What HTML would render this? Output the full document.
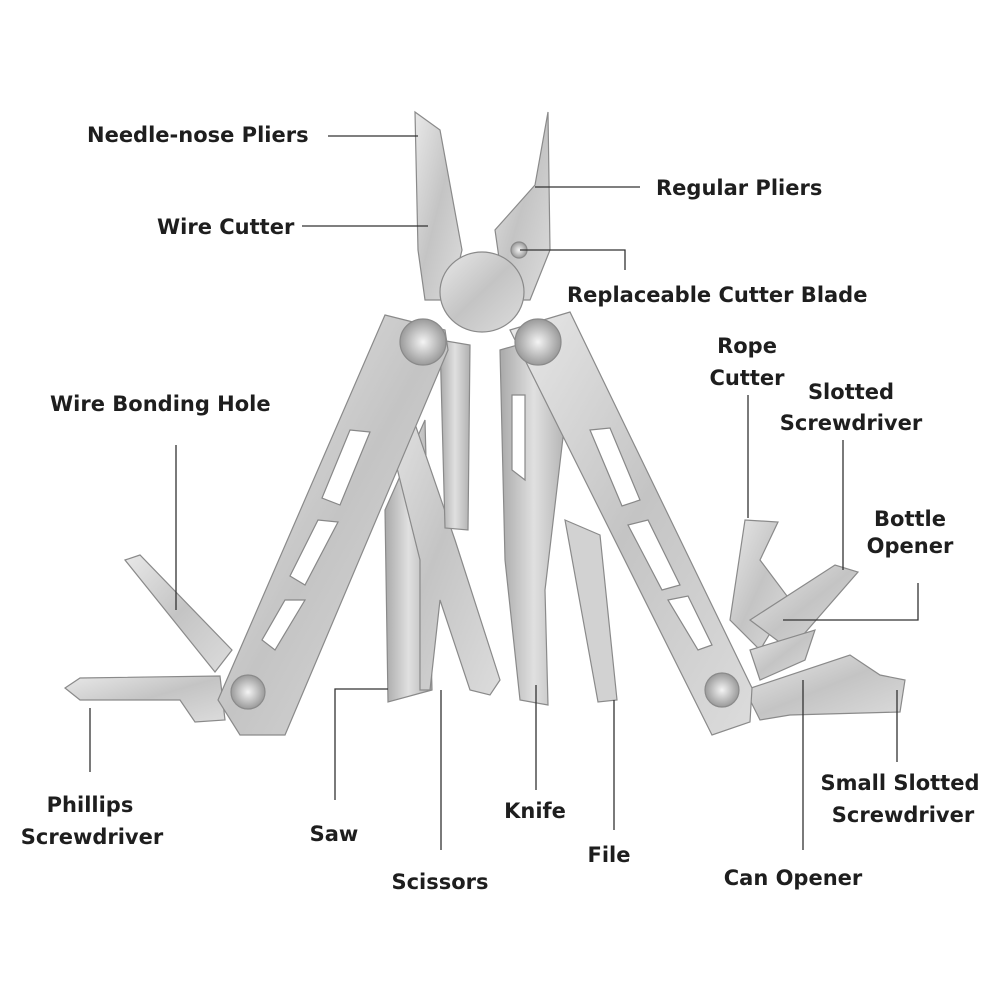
<!DOCTYPE html>
<html><head><meta charset="utf-8">
<style>
html,body{margin:0;padding:0;background:#fff;}
#c{position:relative;width:1000px;height:1000px;overflow:hidden;}
svg{position:absolute;left:0;top:0;}
text{font-family:"DejaVu Sans","Liberation Sans",sans-serif;font-weight:bold;font-size:21px;fill:#1e1e1e;}
</style></head><body><div id="c">
<svg width="1000" height="1000" viewBox="0 0 1000 1000">
<defs>
<linearGradient id="m" x1="0" y1="0" x2="1" y2="1">
<stop offset="0" stop-color="#e8e8e8"/><stop offset="0.5" stop-color="#c4c4c4"/><stop offset="1" stop-color="#dcdcdc"/></linearGradient>
<linearGradient id="m2" x1="0" y1="0" x2="1" y2="0">
<stop offset="0" stop-color="#a9a9a9"/><stop offset="0.5" stop-color="#e0e0e0"/><stop offset="1" stop-color="#b0b0b0"/></linearGradient>
<radialGradient id="s"><stop offset="0" stop-color="#f4f4f4"/><stop offset="1" stop-color="#9a9a9a"/></radialGradient>
</defs>
<g stroke="#8a8a8a" stroke-width="1.2">
<!-- left side tools -->
<polygon points="125,560 140,555 232,650 215,672" fill="url(#m)"/>
<polygon points="65,688 80,678 220,676 225,720 195,722 180,700 80,700" fill="url(#m)"/>
<!-- right side tools -->
<polygon points="730,620 745,520 778,522 760,560 790,600 760,650" fill="url(#m)"/>
<polygon points="750,620 835,565 858,572 790,650" fill="url(#m)"/>
<polygon points="750,650 815,630 805,660 760,680" fill="url(#m)"/>
<polygon points="745,690 850,655 880,675 905,680 900,712 790,715 760,720" fill="url(#m)"/>
<!-- center tools -->
<polygon points="385,510 425,420 432,690 388,702" fill="url(#m2)"/>
<polygon points="380,400 405,395 455,540 500,680 490,695 470,690 440,600 430,690 420,690 420,560" fill="url(#m)"/>
<polygon points="440,340 470,345 468,530 445,528" fill="url(#m2)"/>
<polygon points="500,350 535,340 568,395 545,590 548,705 520,700 505,560" fill="url(#m2)"/>
<polygon points="565,520 600,535 617,700 598,702" fill="#d2d2d2"/>
<!-- handles -->
<polygon points="385,315 445,330 448,350 285,735 240,735 218,700" fill="url(#m)"/>
<polygon points="510,330 570,312 752,688 750,722 712,735" fill="url(#m)"/>
<!-- cutouts in handles -->
<g fill="#fff" stroke="#888">
<polygon points="350,430 370,432 340,505 322,498"/>
<polygon points="318,520 338,522 305,585 290,576"/>
<polygon points="285,600 305,600 275,650 262,640"/>
<polygon points="590,430 610,428 640,500 622,506"/>
<polygon points="628,525 648,520 680,585 662,590"/>
<polygon points="668,600 688,596 712,645 698,650"/>
<polygon points="512,395 525,395 525,480 512,470"/>
</g>
<!-- jaws -->
<polygon points="415,112 440,130 462,250 450,300 425,300 418,250" fill="url(#m)"/>
<polygon points="548,112 535,185 495,230 505,300 530,300 550,250" fill="url(#m)"/>
<ellipse cx="482" cy="292" rx="42" ry="40" fill="url(#m)"/>
<!-- screws -->
<circle cx="423" cy="342" r="23" fill="url(#s)"/>
<circle cx="538" cy="342" r="23" fill="url(#s)"/>
<circle cx="248" cy="692" r="17" fill="url(#s)"/>
<circle cx="722" cy="690" r="17" fill="url(#s)"/>
<circle cx="519" cy="250" r="8" fill="url(#s)"/>
</g>
<!-- leader lines -->
<g stroke="#333" stroke-width="1.3" fill="none">
<line x1="328" y1="136" x2="418" y2="136"/>
<line x1="535" y1="187" x2="640" y2="187"/>
<line x1="302" y1="226" x2="428" y2="226"/>
<polyline points="520,250 625,250 625,270"/>
<line x1="748" y1="395" x2="748" y2="518"/>
<line x1="843" y1="440" x2="843" y2="570"/>
<polyline points="918,583 918,620 783,620"/>
<line x1="176" y1="445" x2="176" y2="610"/>
<line x1="90" y1="708" x2="90" y2="772"/>
<polyline points="388,689 335,689 335,800"/>
<line x1="441" y1="690" x2="441" y2="850"/>
<line x1="536" y1="685" x2="536" y2="790"/>
<line x1="614" y1="700" x2="614" y2="830"/>
<line x1="803" y1="680" x2="803" y2="850"/>
<line x1="897" y1="690" x2="897" y2="762"/>
</g>
<!-- labels -->
<text x="87" y="142">Needle-nose Pliers</text>
<text x="656" y="195">Regular Pliers</text>
<text x="157" y="234">Wire Cutter</text>
<text x="567" y="302">Replaceable Cutter Blade</text>
<text x="747" y="353" text-anchor="middle">Rope</text>
<text x="747" y="385" text-anchor="middle">Cutter</text>
<text x="851" y="399" text-anchor="middle">Slotted</text>
<text x="851" y="430" text-anchor="middle">Screwdriver</text>
<text x="910" y="526" text-anchor="middle">Bottle</text>
<text x="910" y="553" text-anchor="middle">Opener</text>
<text x="50" y="411">Wire Bonding Hole</text>
<text x="90" y="812" text-anchor="middle">Phillips</text>
<text x="92" y="844" text-anchor="middle">Screwdriver</text>
<text x="334" y="841" text-anchor="middle">Saw</text>
<text x="440" y="889" text-anchor="middle">Scissors</text>
<text x="535" y="818" text-anchor="middle">Knife</text>
<text x="609" y="862" text-anchor="middle">File</text>
<text x="793" y="885" text-anchor="middle">Can Opener</text>
<text x="900" y="790" text-anchor="middle">Small Slotted</text>
<text x="903" y="822" text-anchor="middle">Screwdriver</text>
</svg>
</div></body></html>
